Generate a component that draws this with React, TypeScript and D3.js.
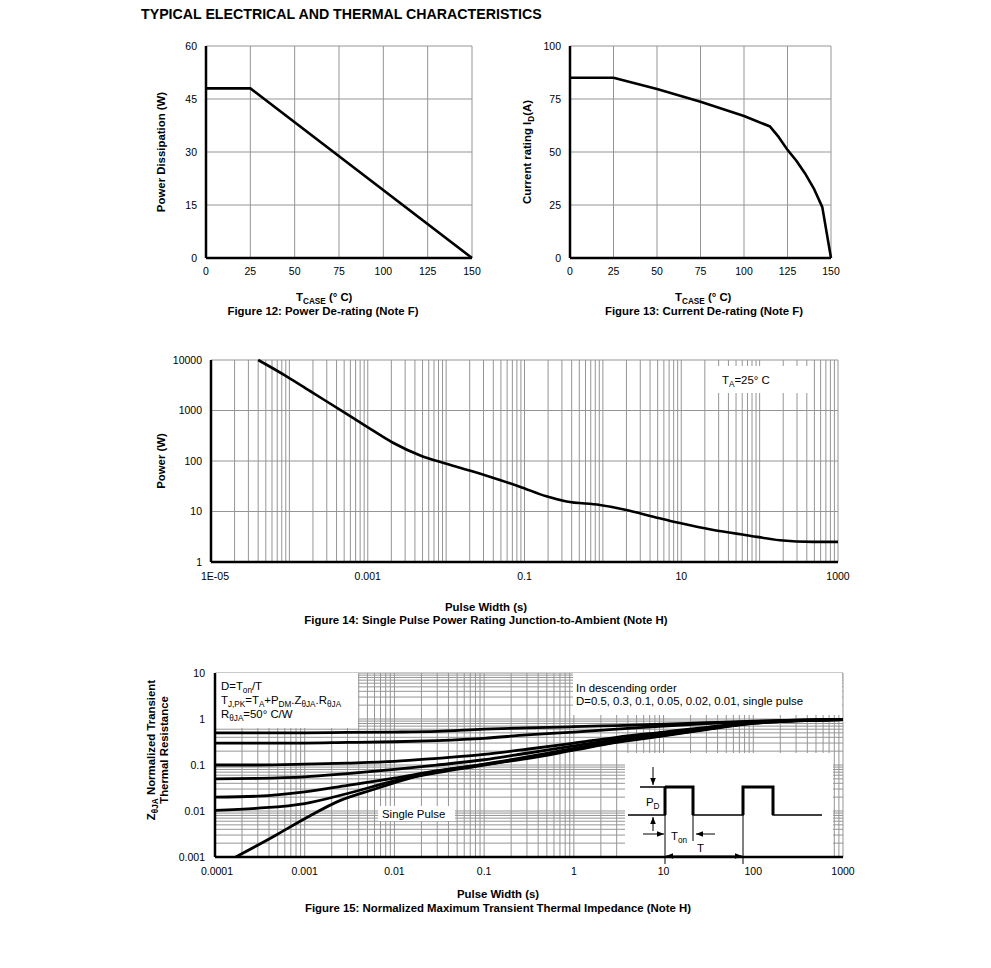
import * as d3 from "d3";

const FONT = "'Liberation Sans', Arial, Helvetica, sans-serif";
const GRID = "#959595";
const TICK = 10.5;
const LBL = 11.4;

// Figure 12: power de-rating
const tempTicks = [0, 25, 50, 75, 100, 125, 150];
const powerTicks = [0, 15, 30, 45, 60];
const powerTemp = [0, 25, 150];
const powerWatts = [48, 48, 0];

// Figure 13: current de-rating
const currentTicks = [0, 25, 50, 75, 100];
const currentTemp = [0, 25, 50, 75, 100, 115, 120, 125, 130, 135, 140, 145, 150];
const currentAmps = [85, 85, 79.7, 73.7, 67, 62, 57, 51, 46, 40, 33, 24, 0];

// Figure 14: single pulse power rating
const spTicksX = [1e-5, 1e-3, 1e-1, 10, 1000];
const spTickLabelsX = ["1E-05", "0.001", "0.1", "10", "1000"];
const spTicksY = [1, 10, 100, 1000, 10000];
const spTime = [4e-5, 9.2e-5, 2.0e-4, 4.4e-4, 9.7e-4, 2.1e-3, 4.6e-3, 0.0101, 0.022, 0.0485, 0.087, 0.19, 0.344, 0.916, 2.0, 4.4, 9.6, 25.7, 68, 181, 480, 1000];
const spPower = [10000, 4750, 2230, 1040, 480, 230, 130, 88, 62, 42, 31, 20, 15.8, 13.5, 10.7, 7.9, 5.9, 4.3, 3.4, 2.7, 2.5, 2.5];

// Figure 15: normalized transient thermal impedance
const ztTicksX = [1e-4, 1e-3, 1e-2, 0.1, 1, 10, 100, 1000];
const ztTickLabelsX = ["0.0001", "0.001", "0.01", "0.1", "1", "10", "100", "1000"];
const ztTicksY = [0.001, 0.01, 0.1, 1, 10];
const ztTickLabelsY = ["0.001", "0.01", "0.1", "1", "10"];
const ztTime = [1e-4, 3e-4, 1e-3, 3e-3, 1e-2, 3e-2, 0.1, 0.3, 1, 3, 10, 30, 100, 300, 1000];
const zD05 = [0.5, 0.5, 0.5, 0.51, 0.52, 0.54, 0.6, 0.64, 0.68, 0.72, 0.77, 0.83, 0.9, 0.95, 0.98];
const zD03 = [0.3, 0.3, 0.3, 0.31, 0.32, 0.34, 0.38, 0.45, 0.52, 0.6, 0.7, 0.79, 0.88, 0.94, 0.98];
const zD01 = [0.1, 0.1, 0.104, 0.11, 0.12, 0.14, 0.17, 0.22, 0.3, 0.4, 0.52, 0.66, 0.84, 0.93, 0.97];
const zD005 = [0.05, 0.051, 0.055, 0.065, 0.08, 0.1, 0.13, 0.18, 0.26, 0.36, 0.48, 0.63, 0.83, 0.92, 0.97];
const zD002 = [0.02, 0.021, 0.026, 0.036, 0.052, 0.075, 0.105, 0.15, 0.23, 0.33, 0.45, 0.61, 0.82, 0.92, 0.97];
const zD001 = [0.0103, 0.0115, 0.0145, 0.024, 0.045, 0.068, 0.1, 0.145, 0.22, 0.32, 0.44, 0.6, 0.81, 0.91, 0.97];
const singleTime = [1.7e-4, 4.5e-4, 1e-3, 2.5e-3, 5.7e-3, 0.014, 0.033, 0.076, 0.3, 1, 3, 10, 30, 100, 300, 1000];
const singleZ = [0.001, 0.0028, 0.0068, 0.017, 0.029, 0.05, 0.075, 0.095, 0.138, 0.21, 0.31, 0.43, 0.59, 0.8, 0.91, 0.97];
const dutySeries = [zD05, zD03, zD01, zD005, zD002, zD001];

// inset pulse diagram, px offsets inside the inset box
const pulseEdges = [40, 68, 118, 148];

type Part = [string, boolean?];

function Rich({ parts, size }: { parts: Part[]; size: number }) {
  let prevSub = false;
  return (
    <>
      {parts.map(([s, sub], i) => {
        const dy = sub ? (prevSub ? 0 : 2.5) : prevSub ? -2.5 : 0;
        prevSub = !!sub;
        return (
          <tspan key={i} dy={dy} fontSize={sub ? size * 0.72 : size}>
            {s}
          </tspan>
        );
      })}
    </>
  );
}

function logGrid(min: number, max: number) {
  const out: number[] = [];
  for (let e = Math.round(Math.log10(min)); e < Math.round(Math.log10(max)); e++) {
    for (let k = 1; k < 10; k++) out.push(k * Math.pow(10, e));
  }
  out.push(max);
  return out;
}

function LinearPanel(props: {
  x0: number; x1: number; y0: number; y1: number;
  xTicks: number[]; yTicks: number[];
  xs: number[]; ys: number[];
}) {
  const { x0, x1, y0, y1, xTicks, yTicks, xs, ys } = props;
  const x = d3.scaleLinear().domain([xTicks[0], xTicks[xTicks.length - 1]]).range([x0, x1]);
  const y = d3.scaleLinear().domain([yTicks[0], yTicks[yTicks.length - 1]]).range([y1, y0]);
  const line = d3.line<number>().x((d) => x(d)).y((_, i) => y(ys[i]));
  return (
    <g>
      {xTicks.map((t) => (
        <line key={"gx" + t} x1={x(t)} x2={x(t)} y1={y0} y2={y1} stroke={GRID} strokeWidth={1} />
      ))}
      {yTicks.map((t) => (
        <line key={"gy" + t} x1={x0} x2={x1} y1={y(t)} y2={y(t)} stroke={GRID} strokeWidth={1} />
      ))}
      <line x1={x0} x2={x0} y1={y0} y2={y1} stroke="#000" strokeWidth={2.5} />
      <line x1={x0} x2={x1} y1={y1} y2={y1} stroke="#000" strokeWidth={2.5} />
      <path d={line(xs) ?? ""} fill="none" stroke="#000" strokeWidth={2.6} strokeLinejoin="round" />
      {xTicks.map((t) => (
        <text key={"tx" + t} x={x(t)} y={y1 + 17} textAnchor="middle" fontSize={TICK}>
          {t}
        </text>
      ))}
      {yTicks.map((t) => (
        <text key={"ty" + t} x={x0 - 9} y={y(t) + 3.5} textAnchor="end" fontSize={TICK}>
          {t}
        </text>
      ))}
    </g>
  );
}

function Fig14() {
  const x0 = 211, x1 = 838, y0 = 360, y1 = 562;
  const x = d3.scaleLog().domain([1e-5, 1000]).range([x0, x1]);
  const y = d3.scaleLog().domain([1, 10000]).range([y1, y0]);
  const line = d3
    .line<number>()
    .x((d) => x(d))
    .y((_, i) => y(spPower[i]))
    .curve(d3.curveMonotoneX);
  return (
    <g>
      {logGrid(1e-5, 1000).map((t, i) => (
        <line key={"gx" + i} x1={x(t)} x2={x(t)} y1={y0} y2={y1} stroke={GRID} />
      ))}
      {spTicksY.map((t) => (
        <line key={"gy" + t} x1={x0} x2={x1} y1={y(t)} y2={y(t)} stroke={GRID} />
      ))}
      <rect x={710} y={366} width={100} height={27} fill="#fff" />
      <text x={722} y={384} fontSize={LBL}>
        <Rich parts={[["T"], ["A", true], ["=25° C"]]} size={LBL} />
      </text>
      <path d={line(spTime) ?? ""} fill="none" stroke="#000" strokeWidth={2.6} />
      <line x1={x0} x2={x0} y1={y0} y2={y1} stroke="#000" strokeWidth={2.5} />
      <line x1={x0} x2={x1} y1={y1} y2={y1} stroke="#000" strokeWidth={2.5} />
      {spTicksX.map((t, i) => (
        <text key={"tx" + i} x={x(t) + (i === 0 ? 4 : 0)} y={y1 + 18} textAnchor="middle" fontSize={TICK}>
          {spTickLabelsX[i]}
        </text>
      ))}
      {spTicksY.map((t) => (
        <text key={"ty" + t} x={x0 - 9} y={y(t) + 3.5} textAnchor="end" fontSize={TICK}>
          {t}
        </text>
      ))}
      <text transform="translate(165,461) rotate(-90)" textAnchor="middle" fontSize={LBL} fontWeight="bold">
        Power (W)
      </text>
      <text x={486} y={611} textAnchor="middle" fontSize={LBL} fontWeight="bold">
        Pulse Width (s)
      </text>
      <text x={486} y={624} textAnchor="middle" fontSize={LBL} fontWeight="bold">
        Figure 14: Single Pulse Power Rating Junction-to-Ambient (Note H)
      </text>
    </g>
  );
}

function Fig15() {
  const x0 = 215, x1 = 843, y0 = 673, y1 = 857;
  const x = d3.scaleLog().domain([1e-4, 1000]).range([x0, x1]);
  const y = d3.scaleLog().domain([0.001, 10]).range([y1, y0]);
  const mk = (vals: number[]) =>
    d3
      .line<number>()
      .x((d) => x(d))
      .y((_, i) => y(vals[i]))
      .curve(d3.curveMonotoneX);
  const ix = d3.scaleLinear().domain([0, 210]).range([625, 835]);
  const hi = 787, lo = 815;
  const [r1, f1, r2, f2] = pulseEdges.map((e) => ix(e));
  const pulsePath = `M${ix(3)},${lo}H${r1}V${hi}H${f1}V${lo}H${r2}V${hi}H${f2}V${lo}H${ix(197)}`;
  return (
    <g>
      <defs>
        <clipPath id="clip15">
          <rect x={x0} y={y0} width={x1 - x0} height={y1 - y0} />
        </clipPath>
        <marker id="arr" viewBox="0 0 10 10" refX={10} refY={5} markerWidth={7} markerHeight={7} orient="auto-start-reverse">
          <path d="M0,1L10,5L0,9z" fill="#000" />
        </marker>
      </defs>
      {logGrid(1e-4, 1000).map((t, i) => (
        <line key={"gx" + i} x1={x(t)} x2={x(t)} y1={y0} y2={y1} stroke={GRID} />
      ))}
      {logGrid(0.001, 10).map((t, i) => (
        <line key={"gy" + i} x1={x0} x2={x1} y1={y(t)} y2={y(t)} stroke={GRID} />
      ))}
      <rect x={x0} y={y0} width={143} height={55} fill="#fff" />
      <rect x={573} y={y0} width={269} height={42} fill="#fff" />
      <rect x={625} y={753} width={208} height={103} fill="#fff" />
      <rect x={378} y={806} width={77} height={15} fill="#fff" />
      <g clipPath="url(#clip15)">
        {dutySeries.map((vals, i) => (
          <path key={i} d={mk(vals)(ztTime) ?? ""} fill="none" stroke="#000" strokeWidth={2.8} />
        ))}
        <path d={mk(singleZ)(singleTime) ?? ""} fill="none" stroke="#000" strokeWidth={2.8} />
      </g>
      <line x1={x0} x2={x0} y1={y0} y2={y1} stroke="#000" strokeWidth={2.5} />
      <line x1={x0} x2={x1} y1={y1} y2={y1} stroke="#000" strokeWidth={2.5} />
      {ztTicksX.map((t, i) => (
        <text key={"tx" + i} x={x(t) + (i === 0 ? 2 : 0)} y={y1 + 18} textAnchor="middle" fontSize={TICK}>
          {ztTickLabelsX[i]}
        </text>
      ))}
      {ztTicksY.map((t, i) => (
        <text key={"ty" + i} x={x0 - 10} y={y(t) + 3.5} textAnchor="end" fontSize={TICK}>
          {ztTickLabelsY[i]}
        </text>
      ))}
      <text x={221} y={690} fontSize={LBL}>
        <Rich parts={[["D=T"], ["on", true], ["/T"]]} size={LBL} />
      </text>
      <text x={221} y={704} fontSize={LBL}>
        <Rich parts={[["T"], ["J,PK", true], ["=T"], ["A", true], ["+P"], ["DM", true], [".Z"], ["θJA", true], [".R"], ["θJA", true]]} size={LBL} />
      </text>
      <text x={221} y={718} fontSize={LBL}>
        <Rich parts={[["R"], ["θJA", true], ["=50° C/W"]]} size={LBL} />
      </text>
      <text x={576} y={692} fontSize={LBL}>In descending order</text>
      <text x={576} y={705} fontSize={LBL}>D=0.5, 0.3, 0.1, 0.05, 0.02, 0.01, single pulse</text>
      <text x={382} y={818} fontSize={LBL}>Single Pulse</text>
      {/* inset diagram */}
      <line x1={ix(15)} x2={r1} y1={hi} y2={hi} stroke="#000" strokeWidth={1.5} />
      <path d={pulsePath} fill="none" stroke="#000" strokeWidth={1.5} />
      <path d={`M${r1},${hi}V${lo}M${r1},${hi}H${f1}V${lo}M${r2},${lo}V${hi}H${f2}V${lo}`} fill="none" stroke="#000" strokeWidth={3} />
      <line x1={r1} x2={r1} y1={lo} y2={864} stroke="#000" strokeWidth={1} />
      <line x1={f1} x2={f1} y1={lo} y2={841} stroke="#000" strokeWidth={1} />
      <line x1={r2} x2={r2} y1={lo} y2={864} stroke="#000" strokeWidth={1} />
      <line x1={ix(28)} x2={ix(28)} y1={767} y2={785} stroke="#000" markerEnd="url(#arr)" />
      <line x1={ix(28)} x2={ix(28)} y1={831} y2={817} stroke="#000" markerEnd="url(#arr)" />
      <text x={ix(21)} y={806} fontSize={LBL}>
        <Rich parts={[["P"], ["D", true]]} size={LBL} />
      </text>
      <line x1={ix(18)} x2={r1 - 1} y1={834} y2={834} stroke="#000" markerEnd="url(#arr)" />
      <line x1={ix(90)} x2={f1 + 3} y1={834} y2={834} stroke="#000" markerEnd="url(#arr)" />
      <text x={ix(46)} y={840} fontSize={LBL}>
        <Rich parts={[["T"], ["on", true]]} size={LBL} />
      </text>
      <line x1={r1 + 1} x2={r2 - 1} y1={856} y2={856} stroke="#000" markerStart="url(#arr)" markerEnd="url(#arr)" />
      <text x={ix(72)} y={852} fontSize={LBL}>T</text>
      <g fontWeight="bold" fontSize={LBL} textAnchor="middle">
        <text transform="translate(155,750) rotate(-90)">
          <Rich parts={[["Z"], ["θJA", true], [" Normalized Transient"]]} size={LBL} />
        </text>
        <text transform="translate(168,750) rotate(-90)">Thermal Resistance</text>
      </g>
      <text x={498} y={898} textAnchor="middle" fontSize={LBL} fontWeight="bold">
        Pulse Width (s)
      </text>
      <text x={498} y={912} textAnchor="middle" fontSize={LBL} fontWeight="bold">
        Figure 15: Normalized Maximum Transient Thermal Impedance (Note H)
      </text>
    </g>
  );
}

export default function App() {
  return (
    <svg
      width={991}
      height={968}
      style={{ position: "absolute", left: 0, top: 0, background: "#fff" }}
      fontFamily={FONT}
    >
      <rect width={991} height={968} fill="#fff" />
      <text x={141} y={19} fontSize={14.2} fontWeight="bold">
        TYPICAL ELECTRICAL AND THERMAL CHARACTERISTICS
      </text>

      {/* Figure 12 */}
      <LinearPanel x0={206} x1={472} y0={46} y1={258} xTicks={tempTicks} yTicks={powerTicks} xs={powerTemp} ys={powerWatts} />
      <text transform="translate(165,152) rotate(-90)" textAnchor="middle" fontSize={LBL} fontWeight="bold">
        Power Dissipation (W)
      </text>
      <text x={296} y={301} fontSize={LBL} fontWeight="bold">
        <Rich parts={[["T"], ["CASE", true], [" (° C)"]]} size={LBL} />
      </text>
      <text x={323} y={315} textAnchor="middle" fontSize={LBL} fontWeight="bold">
        Figure 12: Power De-rating (Note F)
      </text>

      {/* Figure 13 */}
      <LinearPanel x0={570} x1={831} y0={46} y1={258} xTicks={tempTicks} yTicks={currentTicks} xs={currentTemp} ys={currentAmps} />
      <text transform="translate(531,152) rotate(-90)" textAnchor="middle" fontSize={LBL} fontWeight="bold">
        <Rich parts={[["Current rating I"], ["D", true], ["(A)"]]} size={LBL} />
      </text>
      <text x={675} y={301} fontSize={LBL} fontWeight="bold">
        <Rich parts={[["T"], ["CASE", true], [" (° C)"]]} size={LBL} />
      </text>
      <text x={704} y={315} textAnchor="middle" fontSize={LBL} fontWeight="bold">
        Figure 13: Current De-rating (Note F)
      </text>

      <Fig14 />
      <Fig15 />
    </svg>
  );
}
